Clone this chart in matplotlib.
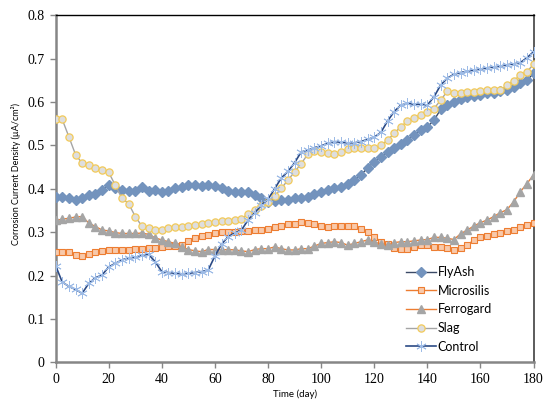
import numpy as np
import matplotlib
matplotlib.use("Agg")
from matplotlib import pyplot as plt

# Sampling days: every 2.5 days from 0 to 180
days = np.arange(0, 180.1, 2.5)

flyash = [0.382, 0.381, 0.379, 0.375, 0.379, 0.385, 0.389, 0.398,
          0.409, 0.403, 0.397, 0.395, 0.394, 0.404, 0.396, 0.397,
          0.393, 0.395, 0.401, 0.405, 0.409, 0.408, 0.407, 0.408,
          0.406, 0.401, 0.395, 0.393, 0.393, 0.392, 0.385, 0.378,
          0.370, 0.372, 0.374, 0.375, 0.378, 0.378, 0.382, 0.389,
          0.393, 0.397, 0.401, 0.405, 0.412, 0.420, 0.432, 0.448,
          0.462, 0.474, 0.485, 0.493, 0.504, 0.512, 0.524, 0.535,
          0.543, 0.558, 0.583, 0.593, 0.600, 0.606, 0.611, 0.614,
          0.617, 0.620, 0.622, 0.625, 0.627, 0.635, 0.643, 0.650,
          0.666]

microsilis = [0.254, 0.254, 0.254, 0.248, 0.245, 0.250, 0.254, 0.257,
              0.259, 0.259, 0.259, 0.259, 0.261, 0.261, 0.263, 0.264,
              0.266, 0.267, 0.268, 0.271, 0.280, 0.286, 0.291, 0.294,
              0.298, 0.300, 0.301, 0.301, 0.303, 0.303, 0.305, 0.306,
              0.308, 0.311, 0.314, 0.318, 0.320, 0.324, 0.322, 0.318,
              0.314, 0.312, 0.314, 0.314, 0.315, 0.315, 0.308, 0.300,
              0.290, 0.278, 0.272, 0.263, 0.262, 0.262, 0.266, 0.270,
              0.270, 0.266, 0.265, 0.264, 0.259, 0.263, 0.270, 0.282,
              0.290, 0.292, 0.296, 0.299, 0.303, 0.306, 0.311, 0.317,
              0.322]

ferrogard = [0.327, 0.330, 0.332, 0.335, 0.336, 0.321, 0.313, 0.305,
             0.303, 0.299, 0.297, 0.297, 0.297, 0.298, 0.295, 0.287,
             0.282, 0.278, 0.274, 0.266, 0.260, 0.257, 0.255, 0.260,
             0.260, 0.259, 0.260, 0.259, 0.257, 0.255, 0.260, 0.262,
             0.262, 0.266, 0.262, 0.259, 0.259, 0.262, 0.262, 0.268,
             0.274, 0.276, 0.278, 0.276, 0.270, 0.274, 0.278, 0.282,
             0.277, 0.273, 0.270, 0.276, 0.278, 0.278, 0.280, 0.282,
             0.283, 0.288, 0.288, 0.286, 0.283, 0.296, 0.305, 0.314,
             0.322, 0.328, 0.336, 0.345, 0.352, 0.370, 0.393, 0.412,
             0.432]

slag = [0.560, 0.560, 0.520, 0.479, 0.459, 0.454, 0.448, 0.443,
        0.438, 0.408, 0.378, 0.366, 0.336, 0.314, 0.309, 0.305,
        0.306, 0.309, 0.311, 0.313, 0.314, 0.316, 0.318, 0.321,
        0.324, 0.325, 0.326, 0.328, 0.330, 0.343, 0.350, 0.360,
        0.370, 0.383, 0.401, 0.420, 0.439, 0.458, 0.480, 0.488,
        0.485, 0.483, 0.480, 0.485, 0.491, 0.493, 0.493, 0.493,
        0.493, 0.500, 0.512, 0.528, 0.543, 0.556, 0.564, 0.571,
        0.576, 0.585, 0.604, 0.625, 0.621, 0.621, 0.623, 0.623,
        0.625, 0.627, 0.627, 0.627, 0.639, 0.649, 0.662, 0.670,
        0.687]

control = [0.223, 0.185, 0.175, 0.168, 0.159, 0.182, 0.195, 0.201,
           0.220, 0.228, 0.236, 0.241, 0.242, 0.247, 0.249, 0.232,
           0.209, 0.207, 0.205, 0.204, 0.205, 0.207, 0.209, 0.213,
           0.245, 0.272, 0.290, 0.298, 0.305, 0.328, 0.345, 0.362,
           0.376, 0.400, 0.425, 0.440, 0.460, 0.485, 0.489, 0.495,
           0.499, 0.505, 0.509, 0.507, 0.506, 0.506, 0.509, 0.514,
           0.519, 0.530, 0.556, 0.578, 0.593, 0.597, 0.595, 0.595,
           0.593, 0.612, 0.639, 0.655, 0.664, 0.668, 0.671, 0.674,
           0.676, 0.679, 0.681, 0.683, 0.686, 0.688, 0.691, 0.702,
           0.716]

x_ticks = [0, 20, 40, 60, 80, 100, 120, 140, 160, 180]
y_ticks = [0, 0.1, 0.2, 0.3, 0.4, 0.5, 0.6, 0.7, 0.8]
y_tick_labels = ["0", "0.1", "0.2", "0.3", "0.4", "0.5", "0.6", "0.7", "0.8"]

fig = plt.figure(figsize=(5.45, 4.03), dpi=100)
ax = fig.add_axes([0.102, 0.101, 0.877, 0.861])

# Excel-style asterisk marker: three crossing strokes
asterisk = (6, 2, 0)

ax.plot(days, flyash, color="#3b4a66", lw=1.0, marker="D", ms=5.5,
        mfc="#7393bd", mec="#7393bd", label="FlyAsh", zorder=3)
ax.plot(days, microsilis, color="#ed7d31", lw=1.0, marker="s", ms=4.2,
        mfc="#f8c9aa", mec="#ed7d31", mew=0.8, label="Microsilis", zorder=4)
ax.plot(days, ferrogard, color="#ed7d31", lw=1.0, marker="^", ms=5.5,
        mfc="#a5a5a5", mec="#a5a5a5", label="Ferrogard", zorder=5)
ax.plot(days, slag, color="#a5a5a5", lw=1.0, marker="o", ms=5.2,
        mfc="#dedede", mec="#f2ca5a", mew=0.9, label="Slag", zorder=6)
ax.plot(days, control, color="#2b4a85", lw=1.2, marker=asterisk, ms=7.5,
        mec="#9dbbe6", mew=0.6, label="Control", zorder=7)

ax.set_xlim(0, 180)
ax.set_ylim(0, 0.8)
ax.set_xticks(x_ticks)
ax.set_yticks(y_ticks)
ax.set_yticklabels(y_tick_labels)

for lab in ax.get_xticklabels() + ax.get_yticklabels():
    lab.set_fontfamily("Liberation Serif")
    lab.set_fontsize(10)

ax.tick_params(axis="both", direction="out", length=4, width=1,
               color="#868686", pad=4)

ax.spines["left"].set_color("#868686")
ax.spines["left"].set_linewidth(1.8)
ax.spines["bottom"].set_color("#868686")
ax.spines["bottom"].set_linewidth(1.8)
ax.spines["top"].set_color("black")
ax.spines["top"].set_linewidth(1.0)
ax.spines["right"].set_color("#404040")
ax.spines["right"].set_linewidth(1.2)

ax.set_xlabel("Time (day)", fontfamily="Lato", fontsize=7, labelpad=2)
ax.set_ylabel("Corrosion Current Density (\u00b5A/cm\u00b2)", fontfamily="Lato",
              fontsize=6.5)
ax.yaxis.set_label_coords(-0.072, 0.544)

ax.legend(loc="lower left", bbox_to_anchor=(0.72, 0.01), frameon=False,
          prop={"family": "Lato", "size": 9}, borderpad=0,
          handlelength=2.4, handletextpad=0.15, labelspacing=0.53)

plt.savefig("out.png", dpi=100)
